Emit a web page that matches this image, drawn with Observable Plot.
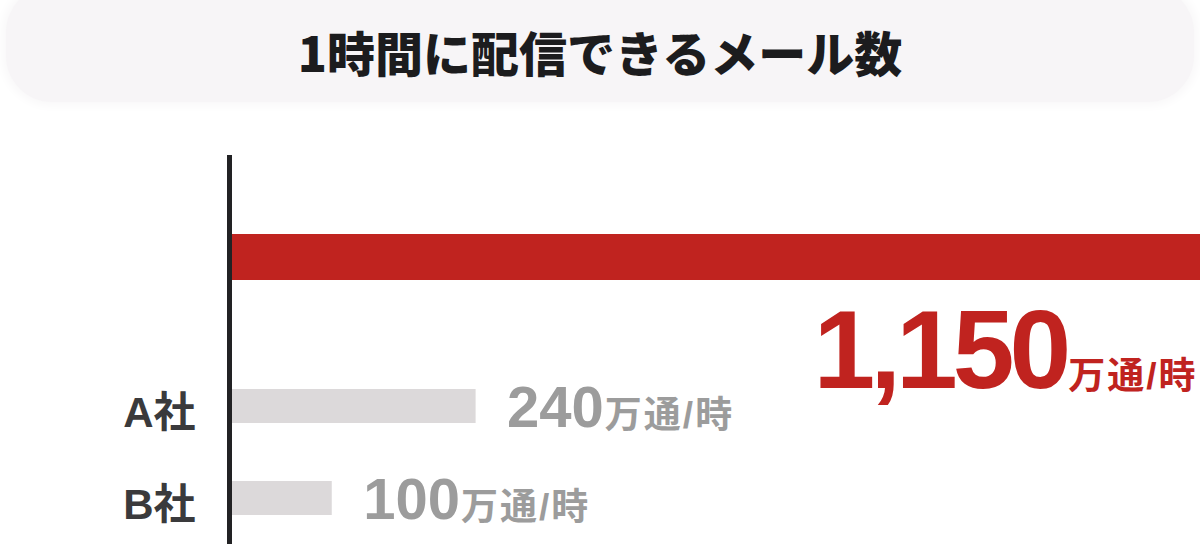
<!DOCTYPE html>
<html>
<head>
<meta charset="utf-8">
<script src="https://cdn.jsdelivr.net/npm/d3@7"></script>
<script src="https://cdn.jsdelivr.net/npm/@observablehq/plot@0.6"></script>
<style>
  html, body { margin: 0; padding: 0; background: #fff; overflow: hidden; }
  #header { position: relative; width: 1200px; height: 130px; }
  #box { position: absolute; left: 6px; top: -14px; width: 1188px; height: 116px; background: #f7f5f7; border-radius: 46px; box-shadow: 0 0 10px 4px #f9f8f9; }
  #title { position: absolute; left: 0; top: 0; width: 1200px; height: 103px; line-height: 103px; text-align: center; font-family: "Noto Sans CJK JP", sans-serif; font-weight: 900; font-size: 48px; color: #1c1c1e; }
  g[aria-description="big-number"] text { letter-spacing: -5px; }
  g[aria-description="unit"] text { letter-spacing: 2px; }
</style>
</head>
<body>
<div id="header"><div id="box"></div><div id="title"></div></div>
<div id="chart"></div>
<script>
const titleText = "1時間に配信できるメール数";
const categories = ["自社", "A社", "B社"];
const values = [1150, 240, 100];
const unitText = "万通/時";
const highlight = "自社";

document.getElementById("title").textContent = titleText;

const rows = categories.map((c, i) => ({category: c, value: values[i], label: d3.format(",")(values[i])}));
const ours = rows.filter(d => d.category === highlight);
const others = rows.filter(d => d.category !== highlight);

const font = `"Liberation Sans", "Noto Sans CJK JP", sans-serif`;
const ctx = document.createElement("canvas").getContext("2d");
function textWidth(s, size, spacing = 0) {
  ctx.font = `bold ${size}px ${font}`;
  if ("letterSpacing" in ctx) ctx.letterSpacing = spacing + "px";
  return ctx.measureText(s).width;
}

const red = "#c0231f";
const grayText = "#9c9c9c";
const gap = 31, numSize = 58, unitSize = 37, bigSize = 111, labelSize = 42;
const unitW = textWidth(unitText, unitSize, 2);

const chart = Plot.plot({
  width: 1200,
  height: 414,
  marginLeft: 229,
  marginRight: 0,
  marginTop: 25,
  marginBottom: 0,
  x: {domain: [0, 945], axis: null},
  y: {domain: categories, range: [138, 414], padding: 0, axis: null},
  marks: [
    Plot.barX(ours, {x: "value", y: "category", fill: red, insetTop: 23, insetBottom: 23, dy: -57, clip: true}),
    Plot.barX(others, {x: "value", y: "category", fill: "#dcd9da", insetTop: 29, insetBottom: 29}),
    Plot.ruleX([0], {stroke: "#222224", strokeWidth: 5}),
    Plot.text(others, {x: 0, y: "category", text: "category", textAnchor: "end", dx: -34, dy: 20, lineAnchor: "bottom",
      fontSize: labelSize, fontWeight: "bold", fill: "#3a3a3c", fontFamily: font}),
    others.map(d => [
      Plot.text([d], {x: "value", y: "category", text: "label", textAnchor: "start", dx: gap, dy: 20, lineAnchor: "bottom",
        fontSize: numSize, fontWeight: "bold", fill: grayText, fontFamily: font}),
      Plot.text([d], {x: "value", y: "category", text: () => unitText, textAnchor: "start",
        dx: gap + textWidth(d.label, numSize) + 1, dy: 21, lineAnchor: "bottom",
        fontSize: unitSize, fontWeight: "bold", fill: grayText, fontFamily: font, ariaDescription: "unit"})
    ]),
    Plot.text(ours, {frameAnchor: "right", y: "category", text: "label", textAnchor: "end", dx: -3 - unitW - 2, dy: 73, lineAnchor: "bottom",
      fontSize: bigSize, fontWeight: "bold", fill: red, fontFamily: font, ariaDescription: "big-number"}),
    Plot.text(ours, {frameAnchor: "right", y: "category", text: () => unitText, textAnchor: "end", dx: -3, dy: 74, lineAnchor: "bottom",
      fontSize: unitSize, fontWeight: "bold", fill: red, fontFamily: font, ariaDescription: "unit"})
  ]
});
document.getElementById("chart").appendChild(chart);
</script>
</body>
</html>
